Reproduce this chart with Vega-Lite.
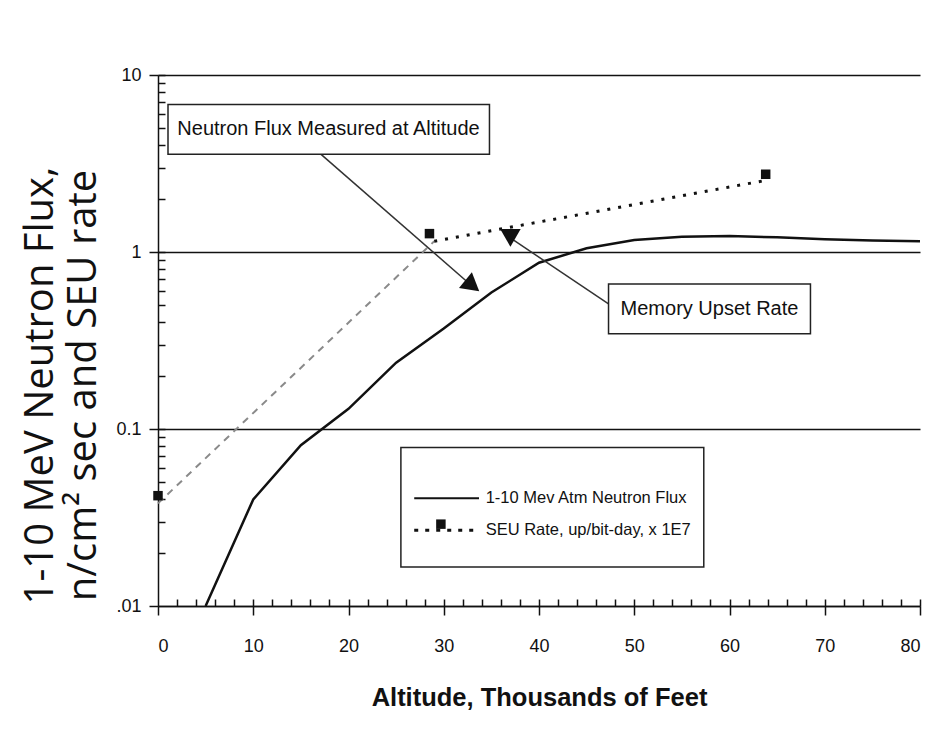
{
  "$schema": "https://vega.github.io/schema/vega-lite/v6.json",
  "width": 762,
  "height": 531,
  "autosize": "none",
  "padding": {"left": 158, "top": 75, "right": 30, "bottom": 145},
  "background": "white",
  "config": {
    "view": {"stroke": null},
    "axis": {"domainColor": "#111", "tickColor": "#111", "labelColor": "#111", "titleColor": "#111", "domainWidth": 1.5, "tickWidth": 1.5}
  },
  "datasets": {
    "flux": [
      {"alt": 5, "val": 0.01}, {"alt": 10, "val": 0.04}, {"alt": 15, "val": 0.081},
      {"alt": 20, "val": 0.13}, {"alt": 25, "val": 0.237}, {"alt": 30, "val": 0.37},
      {"alt": 35, "val": 0.59}, {"alt": 40, "val": 0.87}, {"alt": 45, "val": 1.05},
      {"alt": 50, "val": 1.17}, {"alt": 55, "val": 1.22}, {"alt": 60, "val": 1.23},
      {"alt": 65, "val": 1.21}, {"alt": 70, "val": 1.18}, {"alt": 75, "val": 1.16},
      {"alt": 80, "val": 1.15}
    ],
    "seuDash": [{"alt": 0, "val": 0.038}, {"alt": 29, "val": 1.15}],
    "seuDot": [{"alt": 29, "val": 1.15}, {"alt": 64, "val": 2.55}],
    "seuPts": [{"alt": 0, "val": 0.042}, {"alt": 28.5, "val": 1.27}, {"alt": 63.8, "val": 2.75}],
    "boxes": [
      {"name": "flux", "x1": 1.05, "x2": 34.8, "y1": 3.57, "y2": 6.82},
      {"name": "memory", "x1": 47.3, "x2": 68.5, "y1": 0.345, "y2": 0.66},
      {"name": "legend", "x1": 25.5, "x2": 57.3, "y1": 0.0166, "y2": 0.0787}
    ],
    "callouts": [
      {"alt": 17.9, "val": 4.93, "text": "Neutron Flux Measured at Altitude"},
      {"alt": 57.9, "val": 0.477, "text": "Memory Upset Rate"}
    ],
    "legendText": [
      {"alt": 34.4, "val": 0.0406, "text": "1-10 Mev Atm Neutron Flux"},
      {"alt": 34.4, "val": 0.0268, "text": "SEU Rate, up/bit-day, x 1E7"}
    ],
    "arrows": [
      {"x1": 17, "y1": 3.61, "x2": 33.3, "y2": 0.62},
      {"x1": 47.3, "y1": 0.509, "x2": 37.3, "y2": 1.17}
    ],
    "legendSolid": [{"x1": 26.9, "x2": 33.7, "val": 0.0406}],
    "legendDot": [{"x1": 26.9, "x2": 33.7, "val": 0.0268}],
    "legendPt": [{"alt": 29.7, "val": 0.029}],
    "head1": [{"alt": 33.0, "val": 0.645}],
    "head2": [{"alt": 37.0, "val": 1.2}]
  },
  "layer": [
    {
      "data": {"name": "flux"},
      "mark": {"type": "line", "color": "#111", "strokeWidth": 2.5},
      "encoding": {
        "x": {"field": "alt", "type": "quantitative", "scale": {"domain": [0, 80], "nice": false},
          "axis": {"orient": "bottom", "values": [0, 10, 20, 30, 40, 50, 60, 70, 80], "tickSize": 9, "grid": false,
            "labelFont": "Liberation Sans", "labelFontSize": 18, "labelPadding": 22,
            "title": "Altitude, Thousands of Feet", "titleFont": "Liberation Sans", "titleFontSize": 25.5, "titleFontWeight": "bold", "titlePadding": 30}},
        "y": {"field": "val", "type": "quantitative", "scale": {"type": "log", "domain": [0.01, 10], "nice": false},
          "axis": {"orient": "left", "values": [0.01, 0.1, 1, 10], "tickSize": 9, "grid": true, "gridColor": "#111", "gridWidth": 1.5,
            "labelExpr": "datum.value == 0.01 ? '.01' : datum.value == 0.1 ? '0.1' : datum.value == 1 ? '1' : '10'",
            "labelFont": "Liberation Sans", "labelFontSize": 18, "labelPadding": 8,
            "title": ["1-10 MeV Neutron Flux,", "n/cm² sec and SEU rate"], "titleFont": "Open Sans", "titleFontSize": 40, "titleFontWeight": "normal",
            "titleLineHeight": 43, "titleX": -106, "titleY": 310, "titleAngle": -90, "titleBaseline": "alphabetic", "titleAlign": "center"}}
      }
    },
    {
      "data": {"name": "seuDash"},
      "mark": {"type": "line", "color": "#8a8a8a", "strokeWidth": 2, "strokeDash": [7, 6]},
      "encoding": {
        "x": {"field": "alt", "type": "quantitative",
          "axis": {"orient": "bottom", "values": [2, 4, 6, 8, 10, 12, 14, 16, 18, 20, 22, 24, 26, 28, 30, 32, 34, 36, 38, 40, 42, 44, 46, 48, 50, 52, 54, 56, 58, 60, 62, 64, 66, 68, 70, 72, 74, 76, 78, 80],
            "tickSize": -7, "labels": false, "domain": false, "grid": false, "title": null}},
        "y": {"field": "val", "type": "quantitative",
          "axis": {"orient": "left", "values": [0.02, 0.03, 0.04, 0.05, 0.06, 0.07, 0.08, 0.09, 0.1, 0.2, 0.3, 0.4, 0.5, 0.6, 0.7, 0.8, 0.9, 1, 2, 3, 4, 5, 6, 7, 8, 9, 10],
            "tickSize": -7, "labels": false, "domain": false, "grid": false, "title": null}}
      }
    },
    {
      "data": {"name": "seuDot"},
      "mark": {"type": "line", "color": "#111", "strokeWidth": 3, "strokeDash": [3, 8]},
      "encoding": {
        "x": {"field": "alt", "type": "quantitative", "axis": null},
        "y": {"field": "val", "type": "quantitative", "axis": null}
      }
    },
    {
      "data": {"name": "seuPts"},
      "mark": {"type": "point", "shape": "square", "filled": true, "color": "#111", "size": 90, "opacity": 1},
      "encoding": {
        "x": {"field": "alt", "type": "quantitative", "axis": null},
        "y": {"field": "val", "type": "quantitative", "axis": null}
      }
    },
    {
      "data": {"name": "arrows"},
      "mark": {"type": "rule", "color": "#333", "strokeWidth": 1.5},
      "encoding": {
        "x": {"field": "x1", "type": "quantitative", "axis": null},
        "x2": {"field": "x2"},
        "y": {"field": "y1", "type": "quantitative", "axis": null},
        "y2": {"field": "y2"}
      }
    },
    {
      "data": {"name": "head1"},
      "mark": {"type": "point", "shape": "triangle-down", "filled": true, "color": "#111", "size": 420, "angle": 309, "opacity": 1},
      "encoding": {
        "x": {"field": "alt", "type": "quantitative", "axis": null},
        "y": {"field": "val", "type": "quantitative", "axis": null}
      }
    },
    {
      "data": {"name": "head2"},
      "mark": {"type": "point", "shape": "triangle-down", "filled": true, "color": "#111", "size": 420, "angle": 0, "opacity": 1},
      "encoding": {
        "x": {"field": "alt", "type": "quantitative", "axis": null},
        "y": {"field": "val", "type": "quantitative", "axis": null}
      }
    },
    {
      "data": {"name": "boxes"},
      "mark": {"type": "rect", "fill": "white", "stroke": "#222", "strokeWidth": 1.5},
      "encoding": {
        "x": {"field": "x1", "type": "quantitative", "axis": null},
        "x2": {"field": "x2"},
        "y": {"field": "y1", "type": "quantitative", "axis": null},
        "y2": {"field": "y2"}
      }
    },
    {
      "data": {"name": "callouts"},
      "mark": {"type": "text", "font": "Liberation Sans", "fontSize": 20, "color": "#111", "align": "center", "baseline": "middle"},
      "encoding": {
        "x": {"field": "alt", "type": "quantitative", "axis": null},
        "y": {"field": "val", "type": "quantitative", "axis": null},
        "text": {"field": "text"}
      }
    },
    {
      "data": {"name": "legendText"},
      "mark": {"type": "text", "font": "Liberation Sans", "fontSize": 16.5, "color": "#111", "align": "left", "baseline": "middle"},
      "encoding": {
        "x": {"field": "alt", "type": "quantitative", "axis": null},
        "y": {"field": "val", "type": "quantitative", "axis": null},
        "text": {"field": "text"}
      }
    },
    {
      "data": {"name": "legendSolid"},
      "mark": {"type": "rule", "color": "#111", "strokeWidth": 2},
      "encoding": {
        "x": {"field": "x1", "type": "quantitative", "axis": null},
        "x2": {"field": "x2"},
        "y": {"field": "val", "type": "quantitative", "axis": null}
      }
    },
    {
      "data": {"name": "legendDot"},
      "mark": {"type": "rule", "color": "#111", "strokeWidth": 3, "strokeDash": [4, 7]},
      "encoding": {
        "x": {"field": "x1", "type": "quantitative", "axis": null},
        "x2": {"field": "x2"},
        "y": {"field": "val", "type": "quantitative", "axis": null}
      }
    },
    {
      "data": {"name": "legendPt"},
      "mark": {"type": "point", "shape": "square", "filled": true, "color": "#111", "size": 90, "opacity": 1},
      "encoding": {
        "x": {"field": "alt", "type": "quantitative", "axis": null},
        "y": {"field": "val", "type": "quantitative", "axis": null}
      }
    }
  ],
  "resolve": {"axis": {"x": "independent", "y": "independent"}}
}
